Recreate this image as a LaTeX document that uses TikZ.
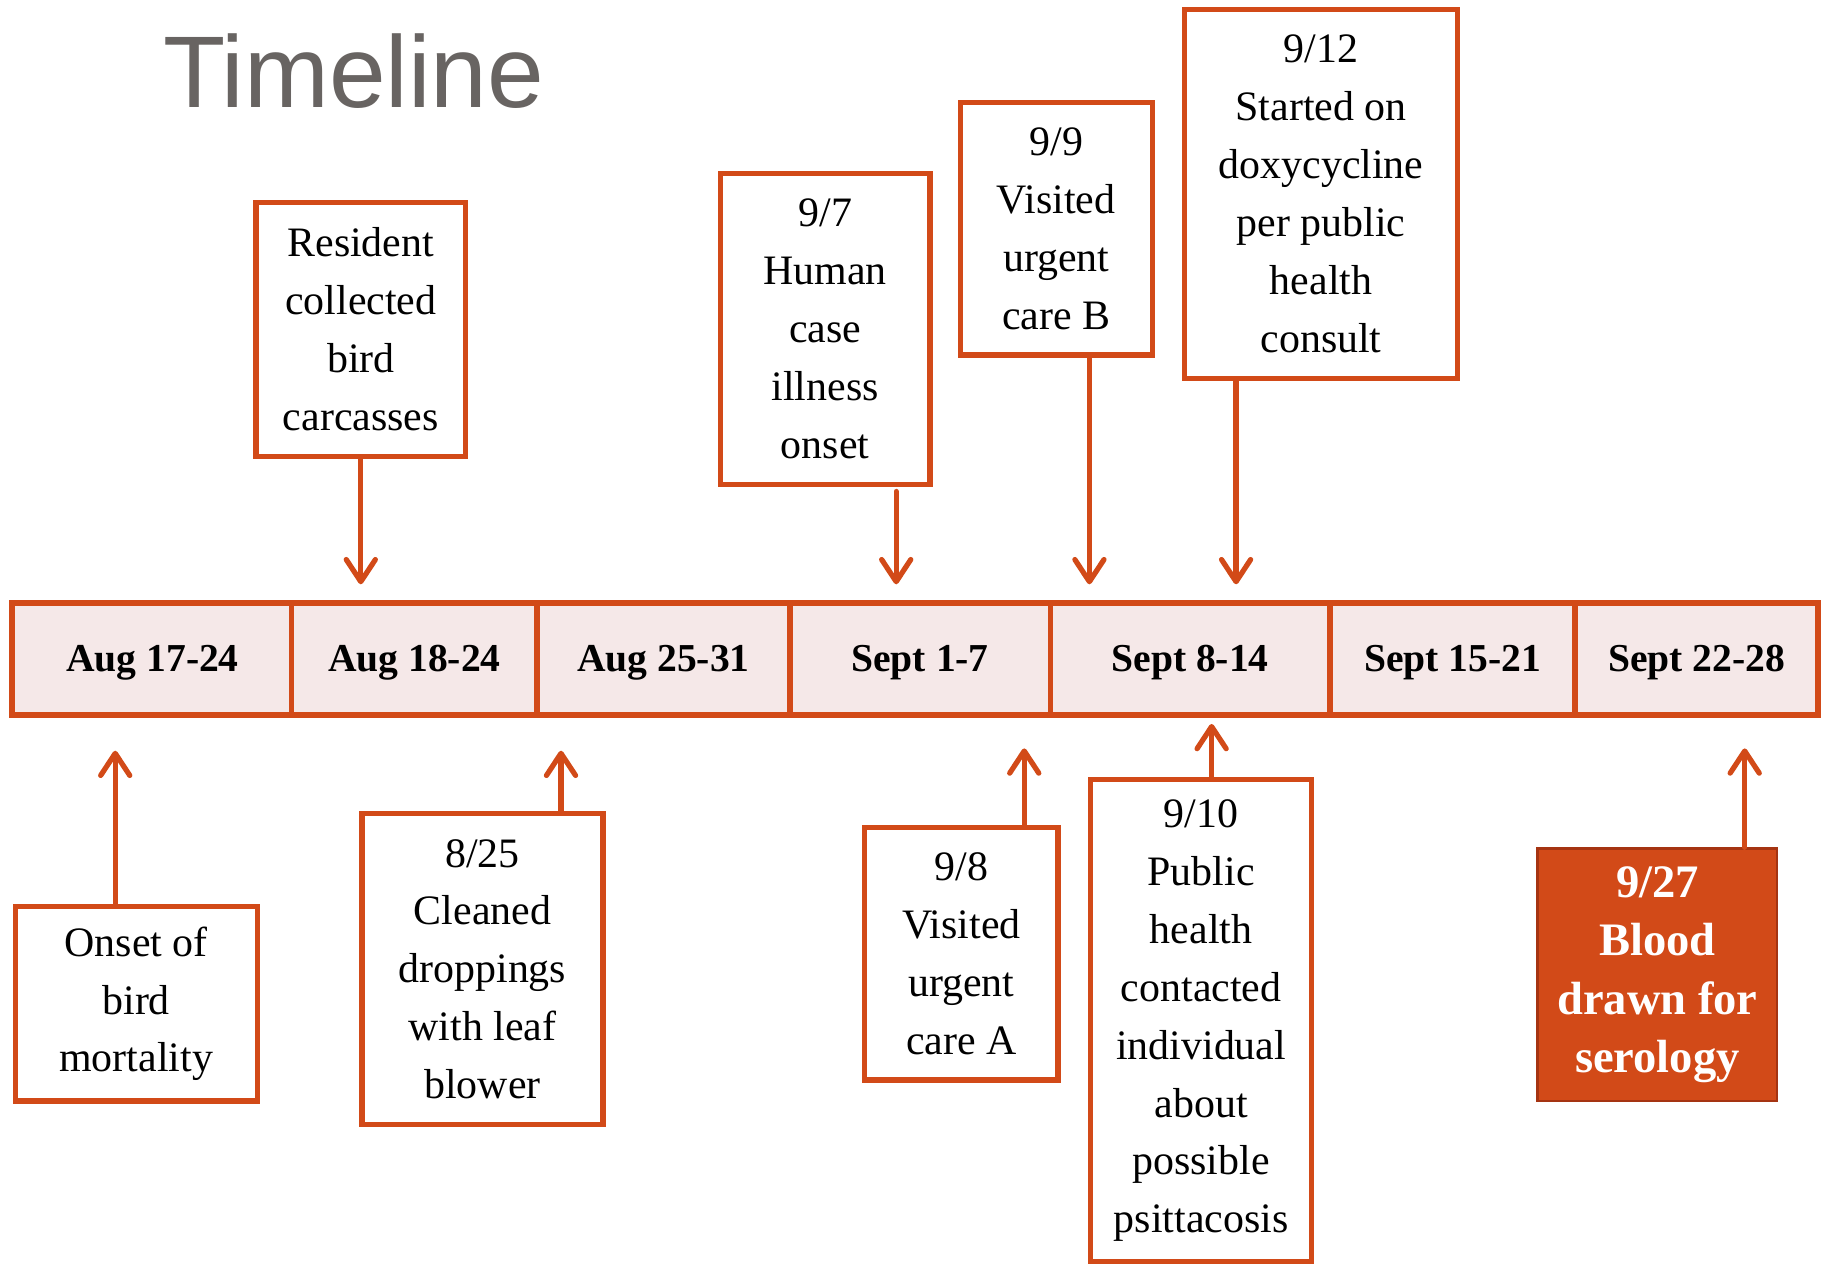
\documentclass[tikz,border=0pt]{standalone}
\usepackage{fontspec}
\setmainfont{Liberation Serif}
\newfontfamily\titlefont{Liberation Sans}
\usetikzlibrary{arrows.meta}
\definecolor{accent}{RGB}{210,74,24}
\definecolor{accentdark}{RGB}{165,52,18}
\definecolor{cellfill}{RGB}{245,232,232}
\definecolor{titlegray}{RGB}{104,100,98}
\begin{document}
\begin{tikzpicture}[x=1pt,y=-1pt,
  evbox/.style={draw=accent, line width=4.5pt, fill=white, align=center,
    inner sep=0pt, font=\fontsize{36}{49.7}\selectfont},
  keybox/.style={draw=accentdark, line width=2pt, fill=accent, text=white,
    align=center, inner sep=0pt, font=\fontsize{40}{50}\selectfont\bfseries},
  weekcell/.style={draw=accent, fill=cellfill, line width=5pt, anchor=west,
    minimum height=96.5pt, inner sep=0pt, text height=28pt, text depth=6pt,
    font=\fontsize{34}{40}\selectfont\bfseries},
  arr/.style={draw=accent, line width=4.5pt, line cap=round,
    -{Straight Barb[length=19pt,width=25pt,round]}}]
\useasboundingbox[fill=white] (0,0) rectangle (1568,1087);

% heading
\node[anchor=base west, inner sep=0pt, text=titlegray,
  font=\titlefont\fontsize{87.5}{90}\selectfont] (title) at (140,92) {Timeline};

% weekly bar
\node[weekcell, minimum width=241pt] (w1) at (8,566) {Aug 17-24};
\node[weekcell, minimum width=211pt] (w2) at (248,566) {Aug 18-24};
\node[weekcell, minimum width=217pt] (w3) at (459,566) {Aug 25-31};
\node[weekcell, minimum width=224pt] (w4) at (676,566) {Sept 1-7};
\node[weekcell, minimum width=240pt] (w5) at (900,566) {Sept 8-14};
\node[weekcell, minimum width=211pt] (w6) at (1140,566) {Sept 15-21};
\node[weekcell, minimum width=208.5pt] (w7) at (1351,566) {Sept 22-28};

% events above the bar
\node[evbox, minimum width=180pt, minimum height=218pt] (e1) at (310,283)
  {Resident\\collected\\bird\\carcasses};
\node[evbox, minimum width=180pt, minimum height=267pt] (e2) at (709,282.5)
  {9/7\\Human\\case\\illness\\onset};
\node[evbox, minimum width=165pt, minimum height=217pt] (e3) at (907.5,196.5)
  {9/9\\Visited\\urgent\\care B};
\node[evbox, minimum width=234pt, minimum height=317pt] (e4) at (1135,166.5)
  {9/12\\Started on\\doxycycline\\per public\\health\\consult};

% events below the bar
\node[evbox, minimum width=208pt, minimum height=167pt] (e5) at (117,862.5)
  {Onset of\\bird\\mortality};
\node[evbox, minimum width=207pt, minimum height=267pt] (e6) at (414.5,832.5)
  {8/25\\Cleaned\\droppings\\with leaf\\blower};
\node[evbox, minimum width=166pt, minimum height=217pt] (e7) at (826,819.5)
  {9/8\\Visited\\urgent\\care A};
\node[evbox, minimum width=190pt, minimum height=414pt] (e8) at (1032,877)
  {9/10\\Public\\health\\contacted\\individual\\about\\possible\\psittacosis};
\node[keybox, minimum width=206pt, minimum height=217pt] (e9) at (1424,837.5)
  {9/27\\Blood\\drawn for\\serology};

% arrow targets next to the bar
\coordinate (t1) at (310,502);
\coordinate (t2) at (770,502);
\coordinate (t3) at (936,502);
\coordinate (t4) at (1062,502);
\coordinate (t5) at (99,645);
\coordinate (t6) at (482,645);
\coordinate (t7) at (880,643);
\coordinate (t8) at (1041,622);
\coordinate (t9) at (1499,643);

\draw[arr] (e1.south -| t1) -- (t1);
\draw[arr] ([yshift=-4pt]e2.south -| t2) -- (t2);
\draw[arr] (e3.south -| t3) -- (t3);
\draw[arr] (e4.south -| t4) -- (t4);
\draw[arr] (e5.north -| t5) -- (t5);
\draw[arr] (e6.north -| t6) -- (t6);
\draw[arr] (e7.north -| t7) -- (t7);
\draw[arr] (e8.north -| t8) -- (t8);
\draw[arr] (e9.north -| t9) -- (t9);
\end{tikzpicture}
\end{document}
